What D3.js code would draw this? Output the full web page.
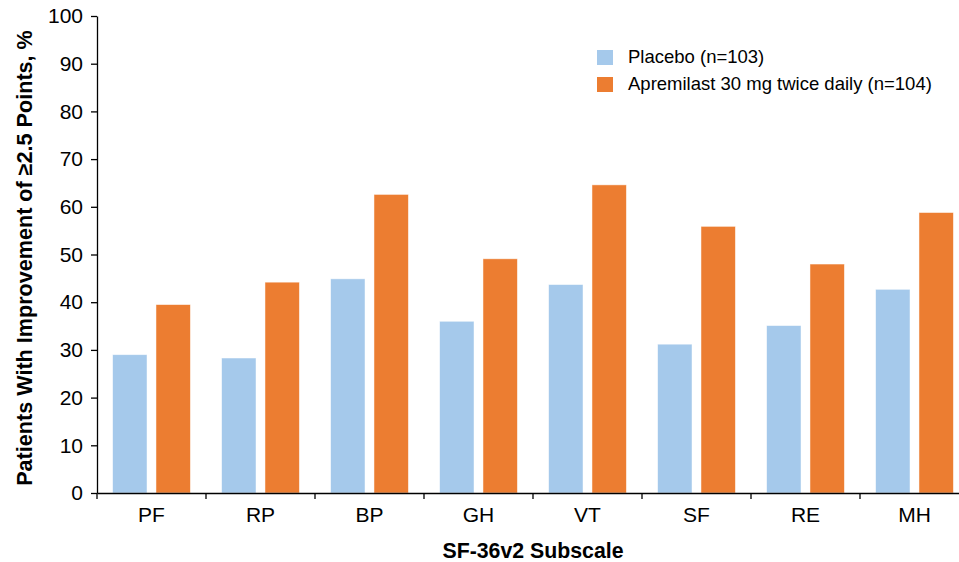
<!DOCTYPE html>
<html>
<head>
<meta charset="utf-8">
<script src="https://cdn.jsdelivr.net/npm/d3@7"></script>
<style>
  body { margin: 0; background: #fff; }
  svg text { font-family: "Liberation Sans", Arial, Helvetica, sans-serif; fill: #000; }
  .axis path, .axis line { stroke: #000; stroke-width: 1.3; }
</style>
</head>
<body>
<div class="chart"></div>
<script>
"use strict";

const subscales = ["PF", "RP", "BP", "GH", "VT", "SF", "RE", "MH"];
const seriesNames = ["Placebo (n=103)", "Apremilast 30 mg twice daily (n=104)"];
const placebo = [29.0, 28.3, 44.9, 36.0, 43.7, 31.2, 35.1, 42.7];
const apremilast = [39.5, 44.2, 62.6, 49.1, 64.6, 55.9, 48.0, 58.8];
const yTicks = [0, 10, 20, 30, 40, 50, 60, 70, 80, 90, 100];
const COLORS = ["#a5c9eb", "#ec7d31"];

const W = 959, H = 562;
const MARGIN = { top: 16, left: 97, bottom: 69 };
const X_END = 969; // last band runs past the right edge

const svg = d3.select(".chart").append("svg")
  .attr("width", W).attr("height", H);

// scales
const x0 = d3.scaleBand().domain(subscales).range([MARGIN.left, X_END]).padding(0);
const x1 = d3.scaleBand().domain([0, 1]).range([0, x0.bandwidth()])
  .paddingInner(0.207).paddingOuter(0.36);
const y = d3.scaleLinear().domain([0, 100]).range([H - MARGIN.bottom, MARGIN.top]);

const rows = subscales.map((s, i) => ({ s, vals: [placebo[i], apremilast[i]] }));

// bars
const groups = svg.selectAll("g.grp").data(rows).enter().append("g")
  .attr("class", "grp")
  .attr("transform", (d) => `translate(${x0(d.s)},0)`);

groups.selectAll("rect").data((d) => d.vals.map((v, k) => ({ v, k })))
  .enter().append("rect")
  .attr("x", (d) => x1(d.k))
  .attr("y", (d) => y(d.v))
  .attr("width", x1.bandwidth())
  .attr("height", (d) => y(0) - y(d.v))
  .attr("fill", (d) => COLORS[d.k])
  .attr("stroke", "#fff")
  .attr("stroke-opacity", 0.6)
  .attr("stroke-width", 0.8);

// axes
const xAxis = svg.append("g").attr("class", "axis")
  .attr("transform", `translate(0,${y(0)})`)
  .call(d3.axisBottom(x0).tickSize(0).tickPadding(14.5).tickSizeOuter(0));
xAxis.selectAll("text").attr("font-size", 21);
// boundary ticks between categories
xAxis.selectAll("line.sep").data(subscales.concat(["end"])).enter().append("line")
  .attr("class", "sep")
  .attr("x1", (d, i) => MARGIN.left + i * x0.step())
  .attr("x2", (d, i) => MARGIN.left + i * x0.step())
  .attr("y1", 0).attr("y2", 6);

const yAxis = svg.append("g").attr("class", "axis")
  .attr("transform", `translate(${MARGIN.left},0)`)
  .call(d3.axisLeft(y).tickValues(yTicks).tickSize(6).tickPadding(8).tickSizeOuter(0));
yAxis.selectAll("text").attr("font-size", 21);

// axis titles
svg.append("text")
  .attr("x", (MARGIN.left + X_END) / 2)
  .attr("y", 557.5)
  .attr("text-anchor", "middle")
  .attr("font-size", 21.3)
  .attr("font-weight", "bold")
  .text("SF-36v2 Subscale");

svg.append("text")
  .attr("transform", `translate(32,258) rotate(-90)`)
  .attr("text-anchor", "middle")
  .attr("font-size", 21.6)
  .attr("font-weight", "bold")
  .text("Patients With Improvement of \u22652.5 Points, %");

// legend
const legend = svg.append("g").attr("transform", "translate(597,50)");
const items = legend.selectAll("g").data(seriesNames).enter().append("g")
  .attr("transform", (d, i) => `translate(0,${i * 27})`);
items.append("rect").attr("width", 16).attr("height", 15)
  .attr("fill", (d, i) => COLORS[i]);
items.append("text").attr("x", 31).attr("y", 13)
  .attr("font-size", 18.5)
  .text((d) => d);
</script>
</body>
</html>
